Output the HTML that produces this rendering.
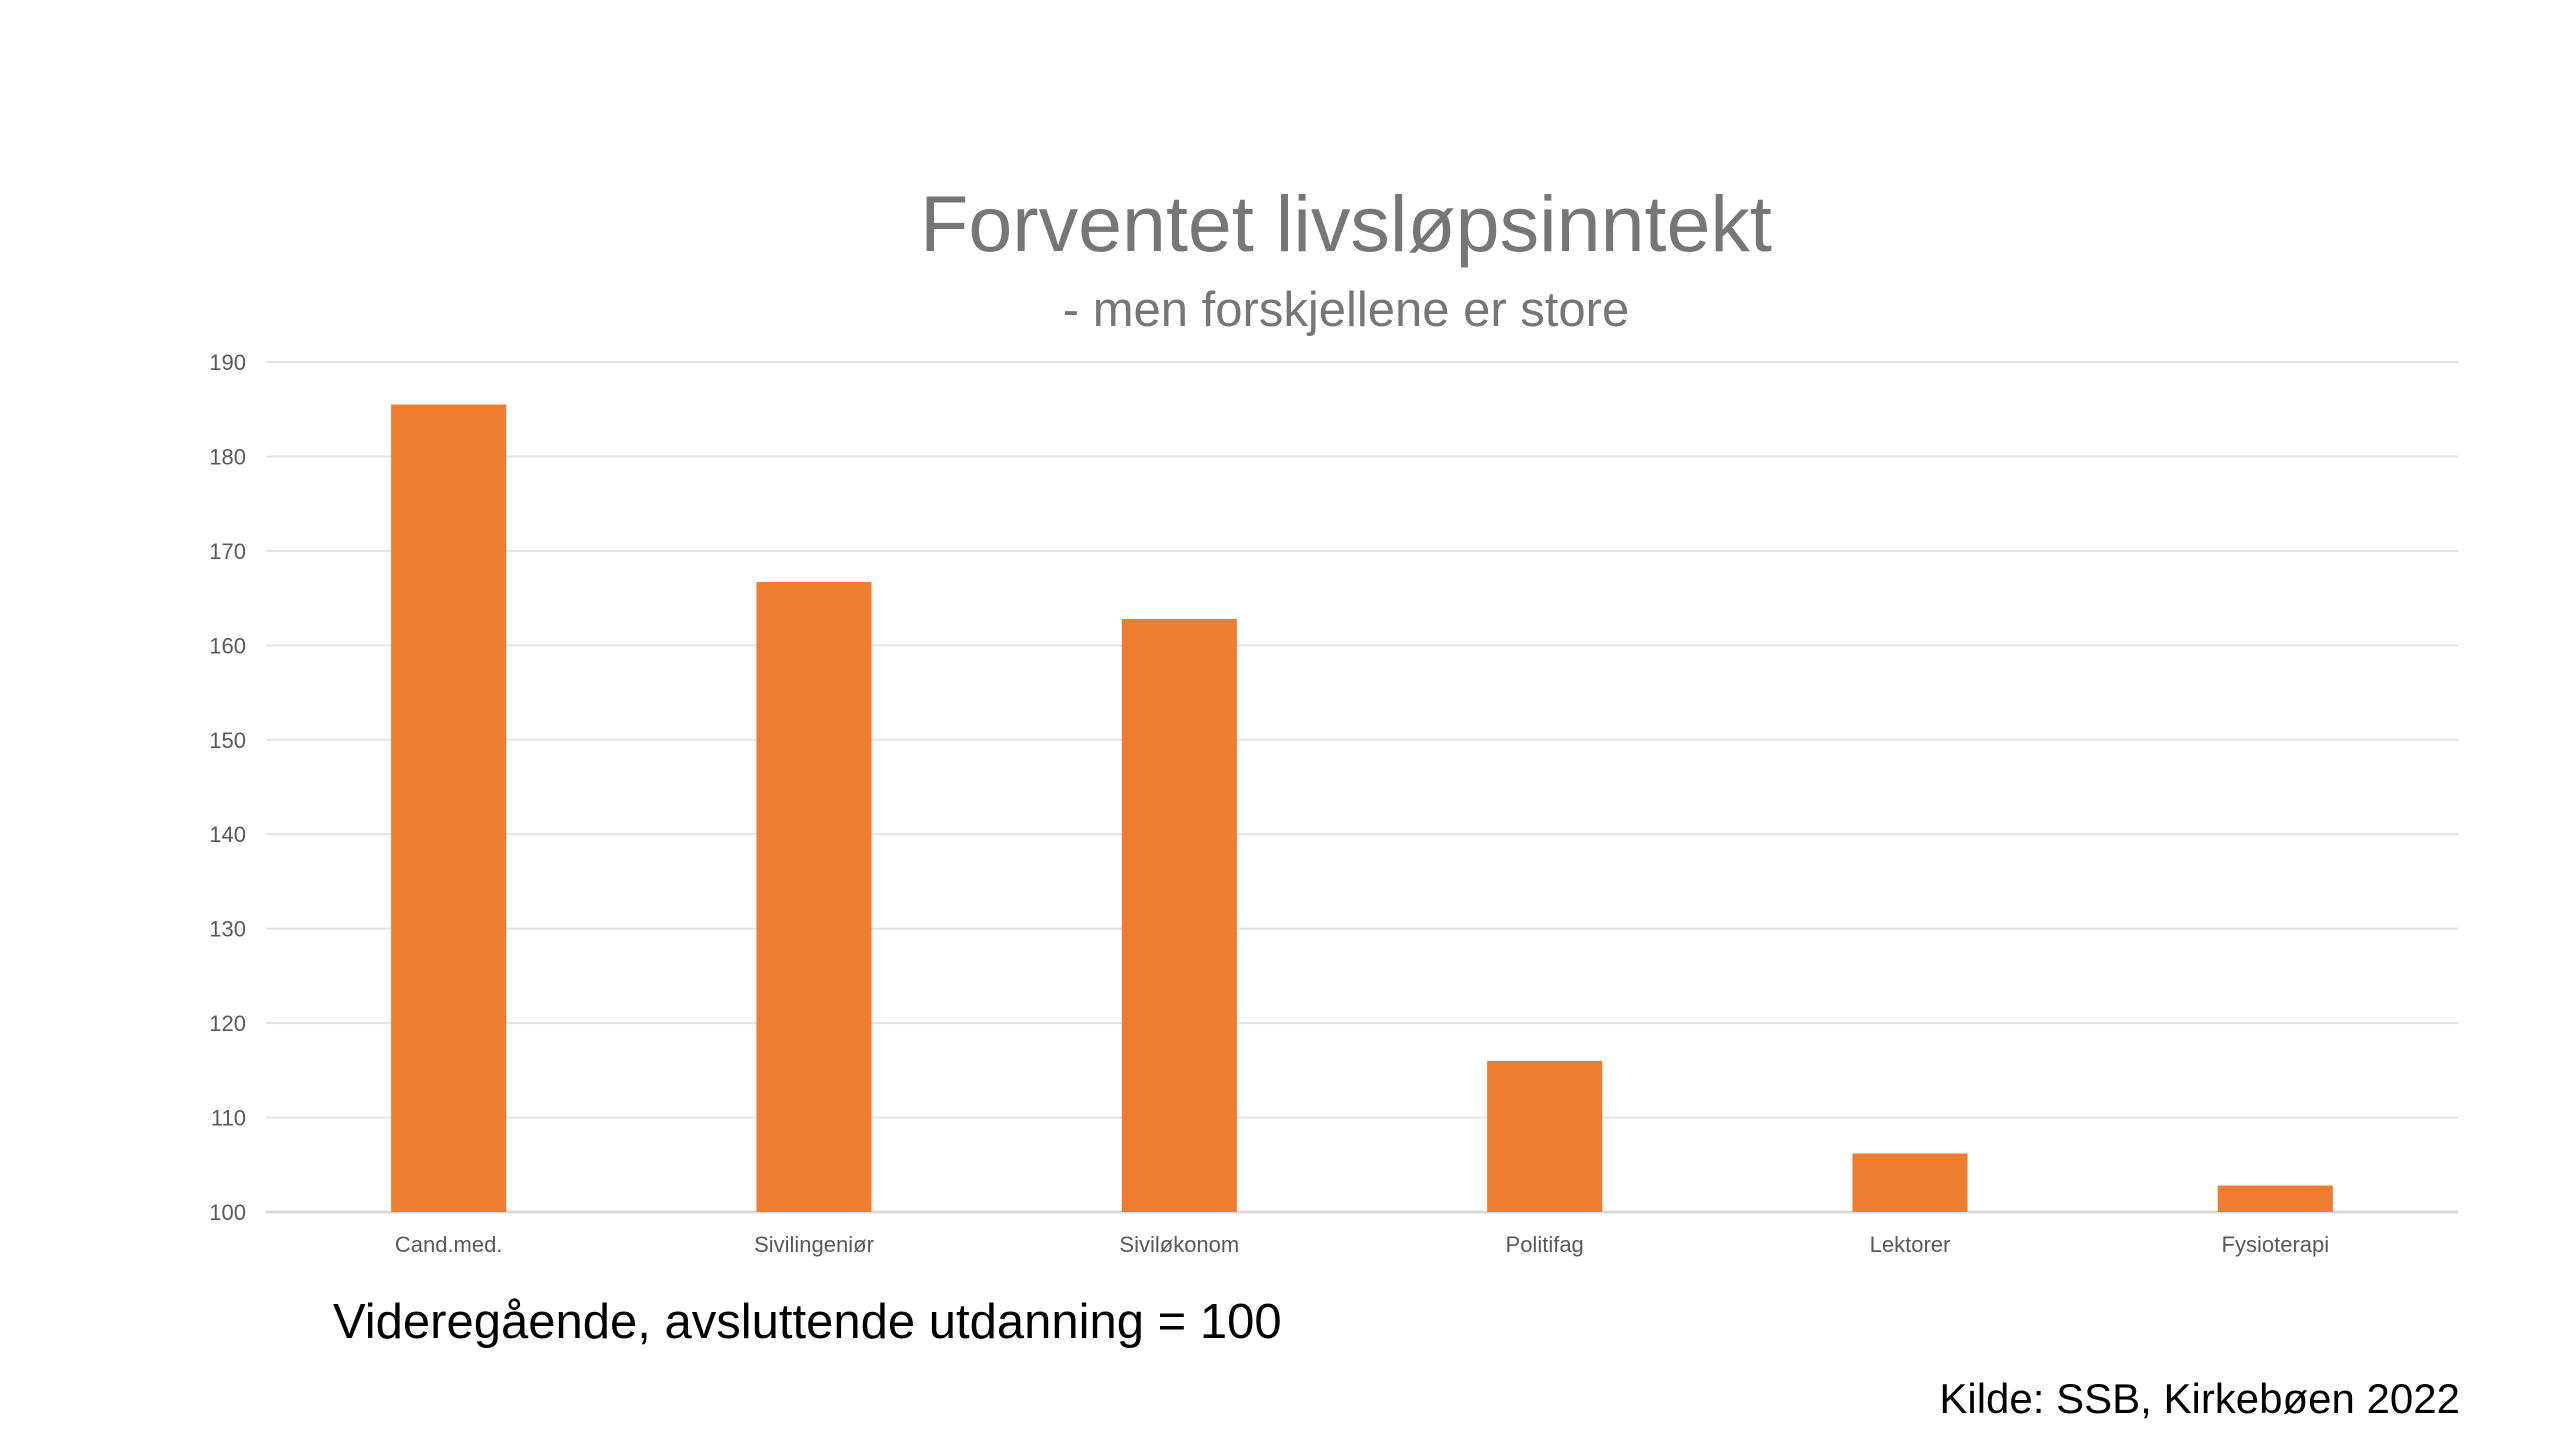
<!DOCTYPE html>
<html><head><meta charset="utf-8"><style>
html,body{margin:0;padding:0;background:#fff;}
body{width:2560px;height:1440px;position:relative;overflow:hidden;font-family:"Liberation Sans",sans-serif;}
svg{position:absolute;left:0;top:0;}
</style></head><body>
<svg id="chart" width="2560" height="1440" xmlns="http://www.w3.org/2000/svg">
<text x="1346" y="251" text-anchor="middle" font-size="79" fill="#767676" font-family="Liberation Sans, sans-serif">Forventet livsløpsinntekt</text>
<text x="1346" y="326" text-anchor="middle" font-size="49" fill="#767676" font-family="Liberation Sans, sans-serif">- men forskjellene er store</text>
<g id="grid"></g>
<g id="bars"></g>
<g id="labels"></g>
<text x="333" y="1338" font-size="49" fill="#000" font-family="Liberation Sans, sans-serif">Videregående, avsluttende utdanning = 100</text>
<text x="2460" y="1413" text-anchor="end" font-size="42" fill="#000" font-family="Liberation Sans, sans-serif">Kilde: SSB, Kirkebøen 2022</text>
</svg>
<script>
const categories = ["Cand.med.","Sivilingeniør","Siviløkonom","Politifag","Lektorer","Fysioterapi"];
const values = [185.5,166.7,162.8,116,106.2,102.8];
const yTicks = [100,110,120,130,140,150,160,170,180,190];

const NS="http://www.w3.org/2000/svg";
const plotLeft=266,plotRight=2458,plotTop=362,plotBottom=1212,yMin=100,yMax=190;
const yScale=v=>plotBottom-(v-yMin)/(yMax-yMin)*(plotBottom-plotTop);
const band=(plotRight-plotLeft)/categories.length;
const xScale=i=>plotLeft+band*(i+0.5);
const bw=band*0.315;
const gridG=document.getElementById('grid'),barsG=document.getElementById('bars'),labelsG=document.getElementById('labels');
function mk(t,a){const e=document.createElementNS(NS,t);for(const k in a)e.setAttribute(k,a[k]);return e;}
yTicks.forEach(v=>{
  const l=mk('line',{x1:plotLeft,x2:plotRight,y1:yScale(v),y2:yScale(v),stroke:v===yMin?'#d9d9d9':'#e3e3e3','stroke-width':v===yMin?3:2});
  
  
  gridG.appendChild(l);
  const t=mk('text',{x:plotLeft-20,y:yScale(v)+8,'text-anchor':'end','font-size':22,fill:'#595959','font-family':'Liberation Sans, sans-serif'});
  t.textContent=v;
  
  
  labelsG.appendChild(t);
});
categories.forEach((c,i)=>{
  const r=mk('rect',{x:xScale(i)-bw/2,y:yScale(values[i]),width:bw,height:plotBottom-yScale(values[i]),fill:'#ed7d31'});
  
  
  barsG.appendChild(r);
  const t=mk('text',{x:xScale(i),y:1252,'text-anchor':'middle','font-size':22,fill:'#595959','font-family':'Liberation Sans, sans-serif'});
  t.textContent=c;
  
  
  labelsG.appendChild(t);
});
</script>
</body></html>
